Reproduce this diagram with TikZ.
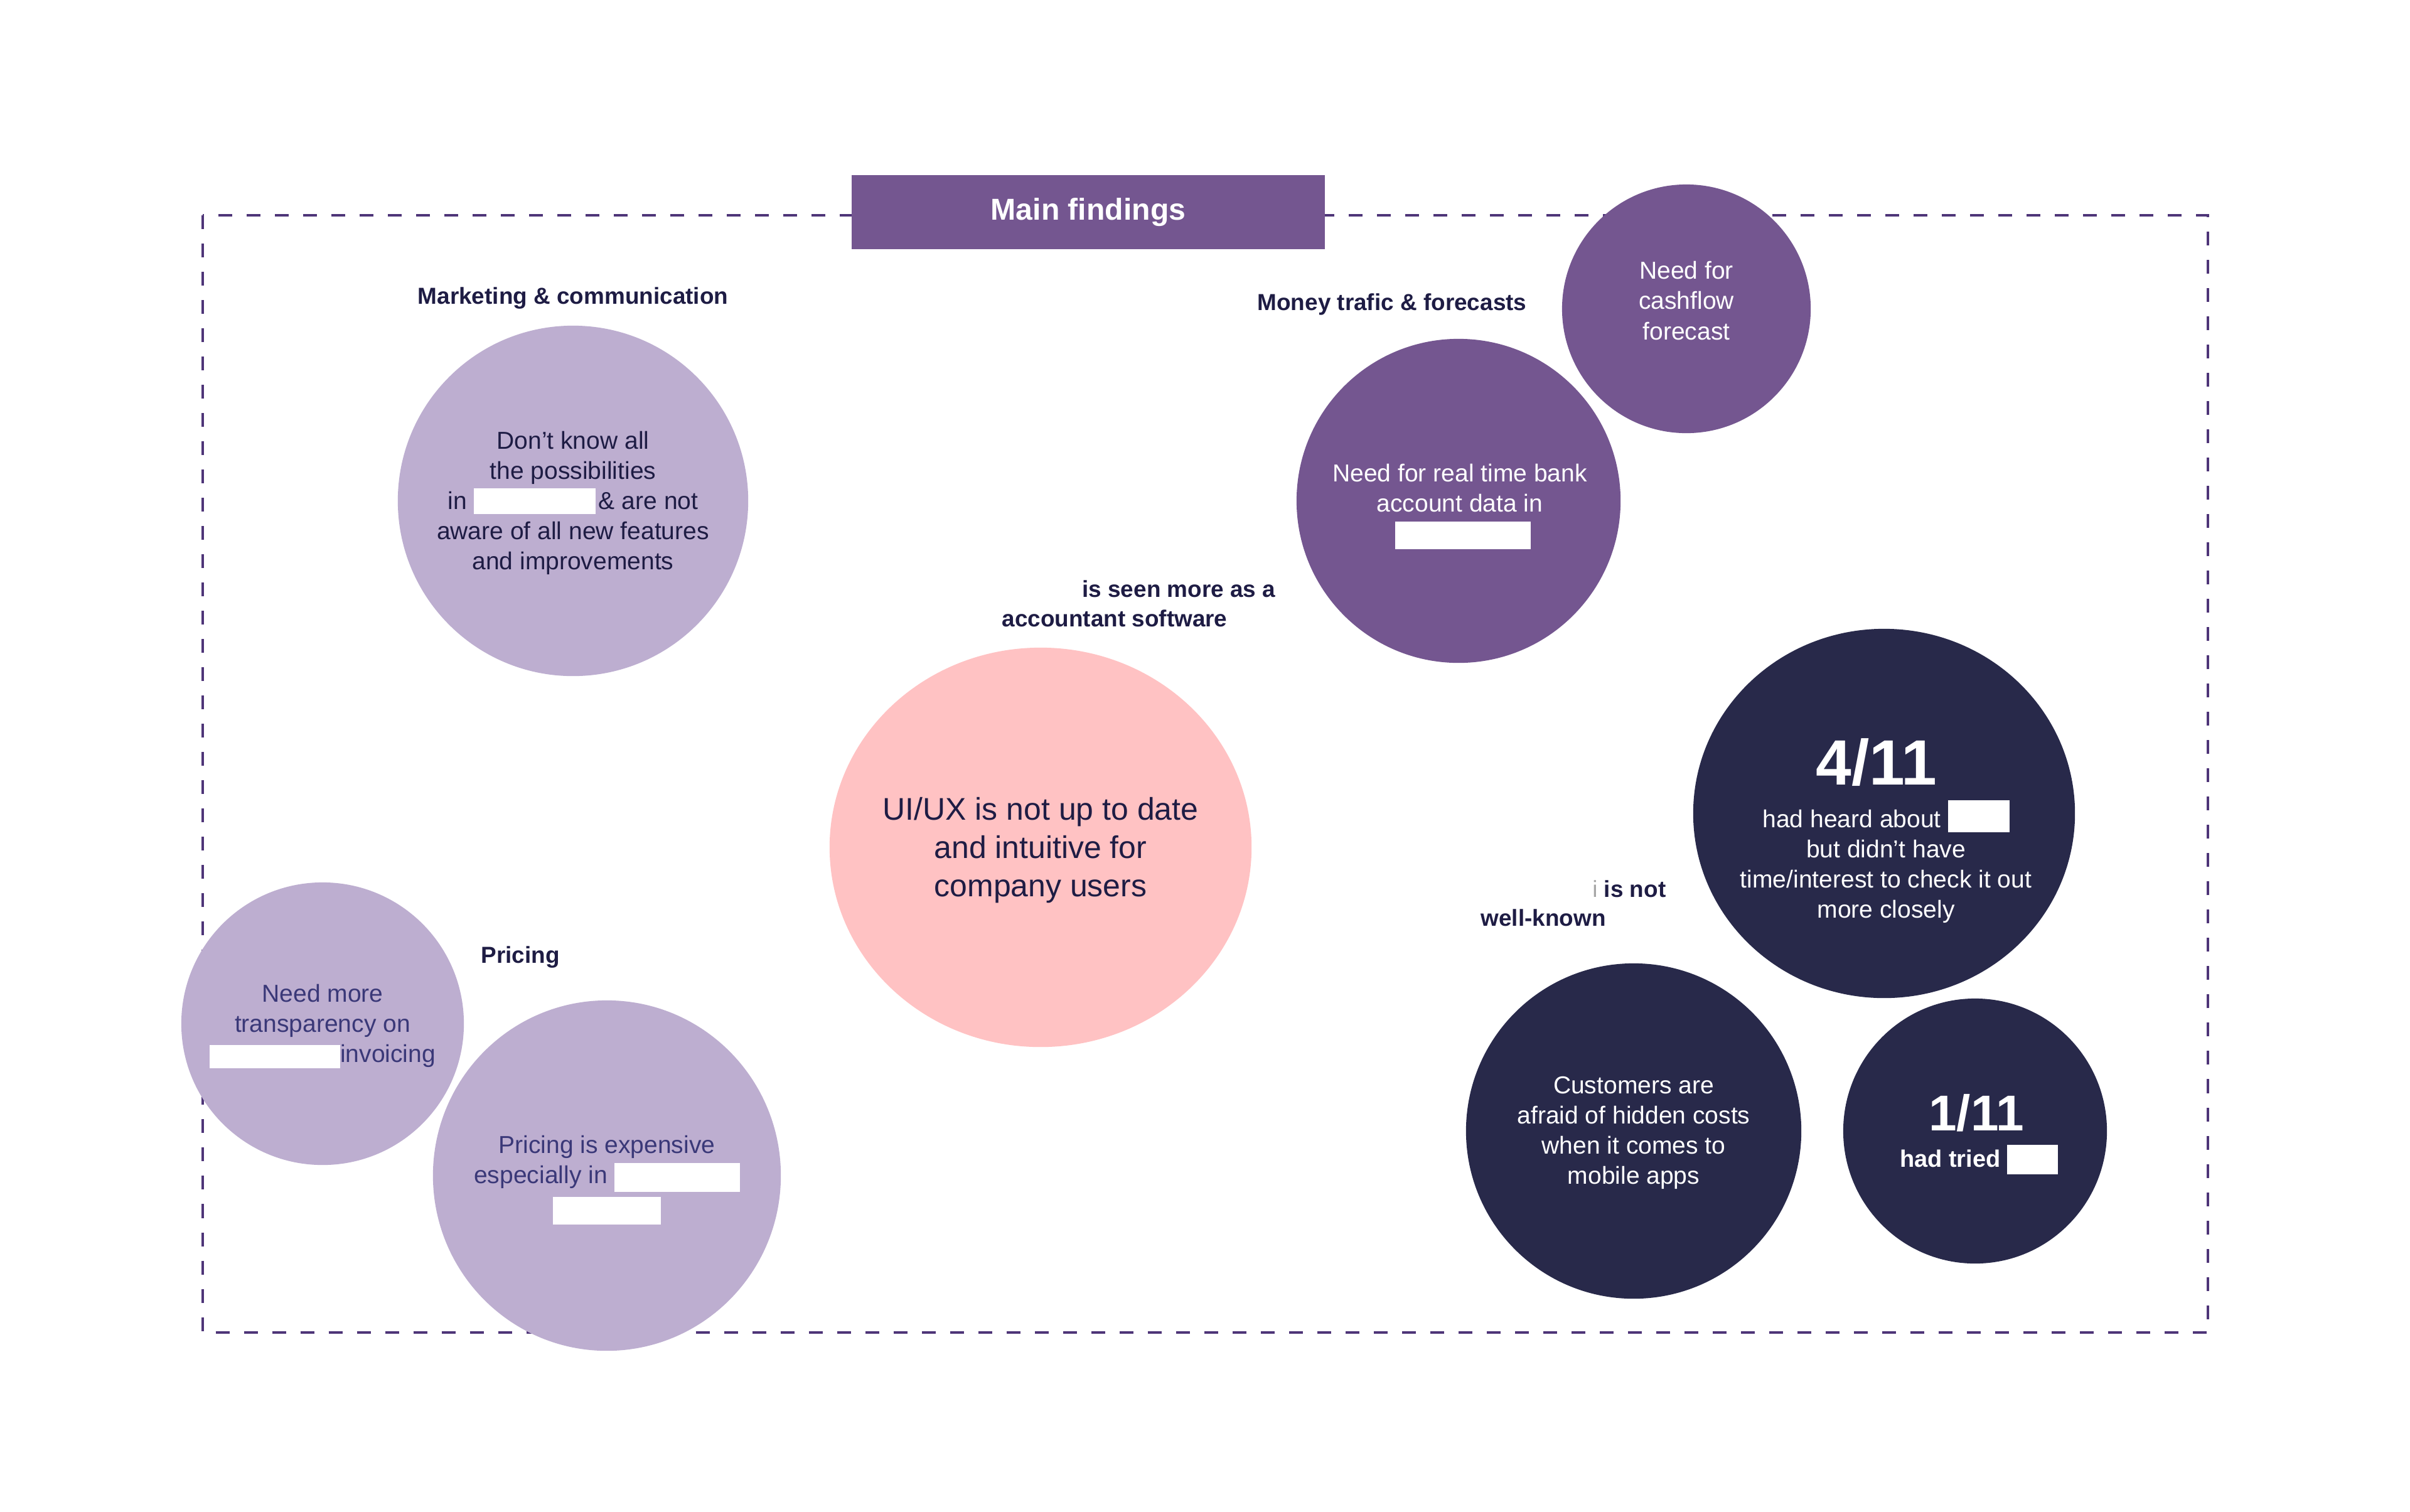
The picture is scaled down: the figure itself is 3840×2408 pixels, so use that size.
\documentclass[tikz,border=0pt]{standalone}
\usepackage{fontspec}
\setmainfont{Liberation Sans}
\usetikzlibrary{shapes.geometric}
\definecolor{lav}{HTML}{BDAED0}
\definecolor{plum}{HTML}{745690}
\definecolor{navy}{HTML}{28294A}
\definecolor{blush}{HTML}{FFC2C3}
\definecolor{ink}{HTML}{1E1C44}
\definecolor{inkb}{HTML}{3A3878}
\definecolor{framec}{HTML}{4E3578}
\newcommand{\redact}[3]{{\color{white}\rule[#1]{#2}{#3}}}
\begin{document}
\begin{tikzpicture}[x=0.01cm,y=-0.01cm,
  bubble/.style={ellipse, inner sep=0pt, draw=none},
  txt/.style={align=center, inner sep=0pt, font=\fontsize{11.1}{13.66}\selectfont},
  lbl/.style={inner sep=0pt, text=ink, font=\fontsize{10.5}{12.6}\selectfont\bfseries},
  bignum/.style={inner sep=0pt, text=white, font=\fontsize{29}{32}\selectfont\bfseries},
]
\useasboundingbox (0,0) rectangle (3840,2408);
\fill[white] (0,0) rectangle (3840,2408);

% frame
\draw[framec, line width=1.3pt, dash pattern=on 6.26pt off 6.54pt] (323,343) rectangle (3518,2123);

% title
\node[fill=plum, minimum width=7.54cm, minimum height=1.18cm, inner sep=0pt, text=white,
      font=\fontsize{13.7}{16}\selectfont\bfseries] (title) at (1734,338) {Main findings};

% labels
\node[lbl] (lmark) at (913,475) {Marketing \& communication};
\node[lbl] (lmoney) at (2218,485) {Money trafic \& forecasts};
\node[lbl, anchor=east] (lseen) at (2033,938) {is seen more as a};
\node[lbl] (lacc) at (1776,985) {accountant software};
\node[lbl] (lprice) at (829,1525) {Pricing};
\node[lbl, anchor=east] (lnot) at (2655,1416) {{\color{gray!70}\mdseries i} is not};
\node[lbl] (lwell) at (2459,1462) {well-known};

% bubbles
\node[bubble, fill=lav, minimum width=5.58cm, minimum height=5.58cm] (cmark) at (913,798) {};
\node[bubble, fill=plum, minimum width=3.96cm, minimum height=3.96cm] (ccash) at (2687,492) {};
\node[bubble, fill=plum, minimum width=5.16cm, minimum height=5.16cm] (creal) at (2324,798) {};
\node[bubble, fill=blush, minimum width=6.72cm, minimum height=6.36cm] (cui) at (1658,1350) {};
\node[bubble, fill=lav, minimum width=4.50cm, minimum height=4.50cm] (ctrans) at (514,1631) {};
\node[bubble, fill=lav, minimum width=5.54cm, minimum height=5.58cm] (cprice) at (967,1873) {};
\node[bubble, fill=navy, minimum width=6.08cm, minimum height=5.88cm] (cfour) at (3002,1296) {};
\node[bubble, fill=navy, minimum width=5.34cm, minimum height=5.34cm] (ccust) at (2603,1802) {};
\node[bubble, fill=navy, minimum width=4.20cm, minimum height=4.22cm] (cone) at (3147,1802) {};

% bubble texts
\node[txt, text=ink] (tmark) at (913,801) {Don't know all\\the possibilities\\in \redact{-0.08cm}{1.94cm}{0.41cm}\hspace{0.05cm}\& are not\\aware of all new features\\and improvements};
\node[txt, text=white] (tcash) at (2687,479) {Need for\\cashflow\\forecast};
\node[txt, text=white] (treal) at (2326,807) {Need for real time bank\\account data in\\\hspace{0.1cm}\redact{-0.11cm}{2.16cm}{0.44cm}};
\node[txt, text=ink, font=\fontsize{14.2}{17.36}\selectfont] (tui) at (1658,1355) {UI/UX is not up to date\\and intuitive for\\company users};
\node[txt, text=inkb] (ttrans) at (514,1635) {Need more\\transparency on\\\redact{-0.1cm}{2.08cm}{0.37cm}invoicing};
\node[txt, text=inkb] (tprice) at (967,1880) {Pricing is expensive\\especially in \redact{-0.13cm}{2.0cm}{0.46cm}\\\redact{-0.17cm}{1.71cm}{0.44cm}};
\node[bignum] (nfour) at (2990,1215) {4/11};
\node[txt, text=white] (tfour) at (3005,1373) {had heard about \redact{-0.08cm}{0.98cm}{0.51cm}\\but didn't have\\time/interest to check it out\\more closely};
\node[txt, text=white] (tcust) at (2603,1805) {Customers are\\afraid of hidden costs\\when it comes to\\mobile apps};
\node[bignum, font=\fontsize{22.8}{26}\selectfont\bfseries] (none) at (3149,1773) {1/11};
\node[txt, text=white, font=\fontsize{10.8}{13}\selectfont\bfseries] (tone) at (3153,1847) {had tried \redact{-0.11cm}{0.81cm}{0.47cm}};
\end{tikzpicture}
\end{document}
